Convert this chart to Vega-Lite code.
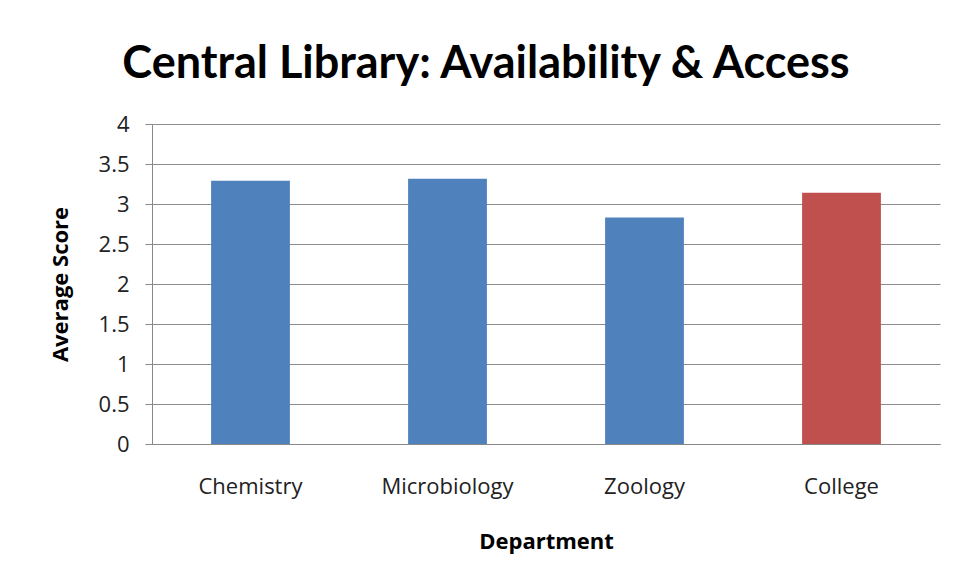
{
  "$schema": "https://vega.github.io/schema/vega-lite/v6.json",
  "autosize": {"type": "none"},
  "width": 788,
  "height": 320,
  "padding": {"left": 152, "top": 124, "right": 18, "bottom": 137},
  "background": "white",
  "title": {
    "text": "Central Library: Availability & Access",
    "font": "Lato",
    "fontSize": 45,
    "fontWeight": "bold",
    "color": "#000000",
    "anchor": "middle",
    "dx": -60,
    "offset": 26
  },
  "data": {
    "values": [
      {"Department": "Chemistry", "Score": 3.29, "Group": "Dept"},
      {"Department": "Microbiology", "Score": 3.315, "Group": "Dept"},
      {"Department": "Zoology", "Score": 2.83, "Group": "Dept"},
      {"Department": "College", "Score": 3.14, "Group": "College"}
    ]
  },
  "mark": {"type": "bar"},
  "encoding": {
    "x": {
      "field": "Department",
      "type": "nominal",
      "sort": null,
      "scale": {"paddingInner": 0.6, "paddingOuter": 0.3},
      "axis": {
        "title": "Department",
        "labelAngle": 0,
        "labelFont": "Open Sans",
        "labelFontSize": 22,
        "labelColor": "#222222",
        "labelPadding": 32,
        "ticks": false,
        "domainColor": "#888888",
        "titleFont": "Open Sans",
        "titleFontSize": 22,
        "titleFontWeight": "bold",
        "titleColor": "#000000",
        "titlePadding": 34
      }
    },
    "y": {
      "field": "Score",
      "type": "quantitative",
      "scale": {"domain": [0, 4], "nice": false},
      "axis": {
        "title": "Average Score",
        "values": [0, 0.5, 1, 1.5, 2, 2.5, 3, 3.5, 4],
        "format": "~g",
        "labelFont": "Open Sans",
        "labelFontSize": 22,
        "labelColor": "#222222",
        "labelPadding": 16,
        "tickSize": 7,
        "tickColor": "#888888",
        "domainColor": "#888888",
        "gridColor": "#8c8c8c",
        "gridOpacity": 1,
        "titleFont": "Open Sans",
        "titleFontSize": 22,
        "titleFontWeight": "bold",
        "titleColor": "#000000",
        "titlePadding": 26
      }
    },
    "color": {
      "field": "Group",
      "type": "nominal",
      "scale": {"domain": ["Dept", "College"], "range": ["#4f81bd", "#c0504d"]},
      "legend": null
    }
  },
  "config": {"view": {"stroke": null}}
}
